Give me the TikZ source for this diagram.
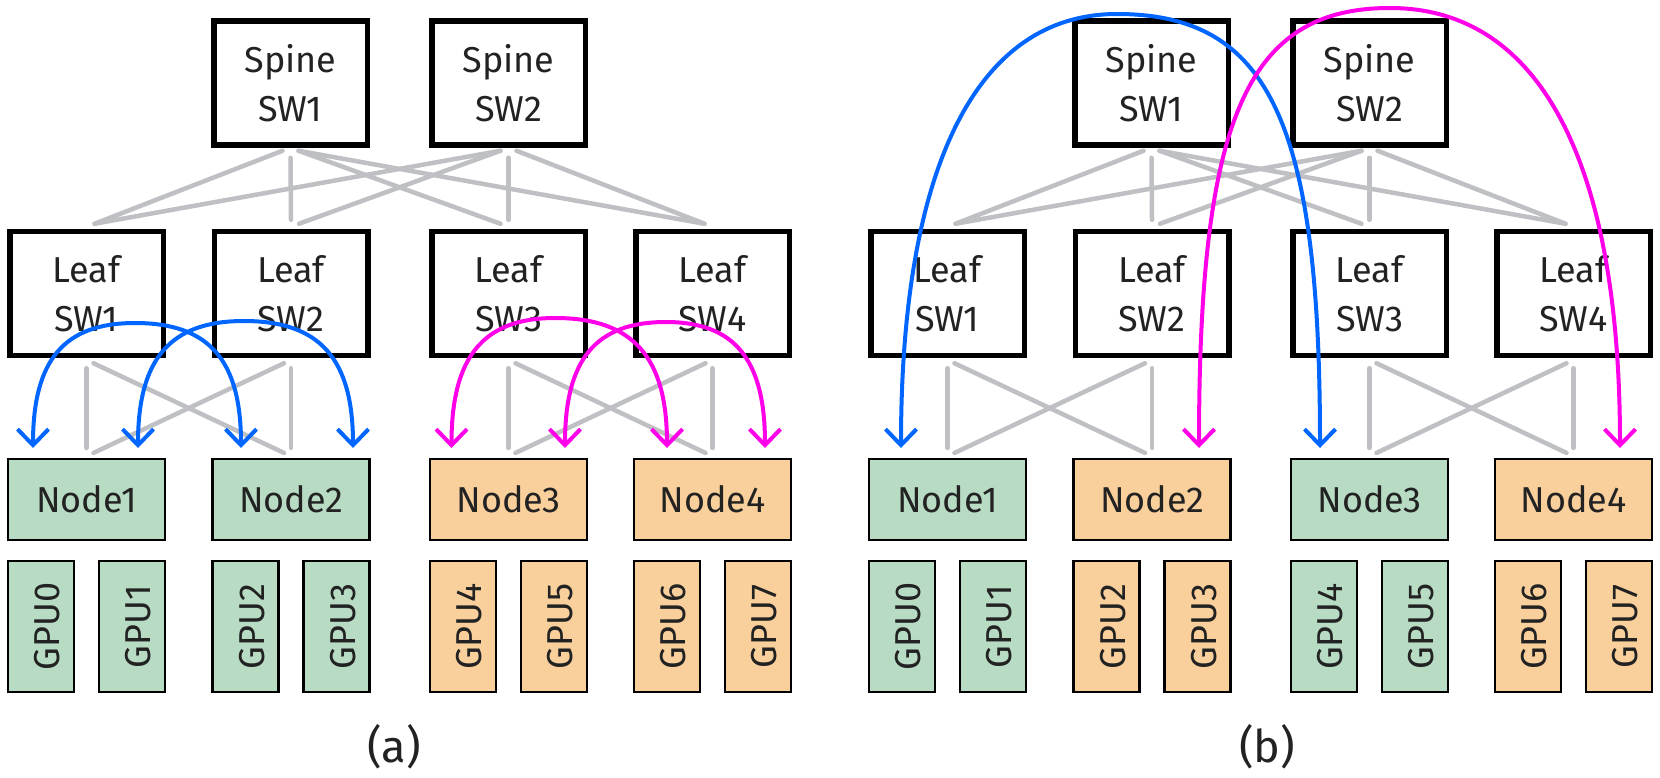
\documentclass[tikz,border=0pt]{standalone}
\usepackage{fontspec}
\setmainfont{Fira Sans}
\usetikzlibrary{arrows.meta,calc}
\definecolor{gfill}{HTML}{B8DBC4}
\definecolor{ofill}{HTML}{F9CF9C}
\definecolor{glink}{HTML}{BEC0C4}
\definecolor{ablue}{HTML}{0066FF}
\definecolor{amag}{HTML}{FF00E8}
\definecolor{txt}{HTML}{222222}
\newcommand\gputext[1]{\rotatebox{90}{\raisebox{0pt}[37pt][0pt]{#1}}}
\newcommand\drawpanel[6]{%
  \node[swbox] (#1S1) at ({290.5+#2},83) {Spine\\SW1};
  \node[swbox] (#1S2) at ({508.5+#2},83) {Spine\\SW2};
  \foreach \i/\cx/\col in {1/86.5/#3,2/291/#4,3/508.5/#5,4/712.5/#6}{
    \pgfmathtruncatemacro\ga{2*\i-2}
    \pgfmathtruncatemacro\gb{2*\i-1}
    \node[swbox] (#1L\i) at ({\cx+#2},293.5) {Leaf\\SW\i};
    \node[srvbox,fill=\col] (#1N\i) at ({\cx+#2},499.5) {Node\i};
    \node[gpubox,fill=\col] (#1G\ga) at ({\cx+#2-45.5},626.5) {\gputext{GPU\ga}};
    \node[gpubox,fill=\col] (#1G\gb) at ({\cx+#2+45.5},626.5) {\gputext{GPU\gb}};
  }
  % spine - leaf
  \draw[link] ($(#1S1.south)+(-8,3)$) -- ($(#1L1.north)+(8,-5)$);
  \draw[link] ($(#1S1.south)+(0,10)$) -- ($(#1L2.north)+(0,-9)$);
  \draw[link] ($(#1S1.south)+(8,3)$) -- ($(#1L3.north)+(-8,-5)$);
  \draw[link] ($(#1S1.south)+(8,3)$) -- ($(#1L4.north)+(-8,-5)$);
  \draw[link] ($(#1S2.south)+(-8,3)$) -- ($(#1L1.north)+(8,-5)$);
  \draw[link] ($(#1S2.south)+(-8,3)$) -- ($(#1L2.north)+(8,-5)$);
  \draw[link] ($(#1S2.south)+(0,10)$) -- ($(#1L3.north)+(0,-9)$);
  \draw[link] ($(#1S2.south)+(8,3)$) -- ($(#1L4.north)+(-8,-5)$);
  % leaf - node
  \foreach \p/\q in {1/2,3/4}{
    \draw[link] ($(#1L\p.south)+(0,10)$) -- ($(#1N\p.north)+(0,-10)$);
    \draw[link] ($(#1L\q.south)+(0,10)$) -- ($(#1N\q.north)+(0,-10)$);
    \draw[link] ($(#1L\p.south)+(7,5)$) -- ($(#1N\q.north)+(-7,-5)$);
    \draw[link] ($(#1L\q.south)+(-7,5)$) -- ($(#1N\p.north)+(7,-5)$);
  }
}
\begin{document}
\begin{tikzpicture}[x=1pt,y=-1pt,
  swbox/.style={draw=black, line width=5.5pt, minimum width=153.5pt, minimum height=124pt,
    inner sep=0pt, align=center, text=txt, font=\fontsize{36}{49}\selectfont},
  srvbox/.style={draw=black, line width=2.2pt, minimum width=157pt, minimum height=81pt,
    inner sep=0pt, text=txt, font=\fontsize{36}{43}\selectfont},
  gpubox/.style={draw=black, line width=2.2pt, minimum width=66pt, minimum height=131pt,
    inner sep=0pt, text=txt, font=\fontsize{36}{43}\selectfont},
  link/.style={draw=glink, line width=4.5pt, line cap=round},
  flow/.style={line width=4pt, >={Straight Barb[length=16pt,width=31pt]}, <->},
  flowb/.style={flow, draw=ablue},
  flowm/.style={flow, draw=amag},
  caption/.style={text=txt, font=\fontsize{45}{50}\selectfont}]
\useasboundingbox (0,0) rectangle (1660,777);
\fill[white] (0,0) rectangle (1660,777);
\drawpanel{a}{0}{gfill}{gfill}{ofill}{ofill}
\drawpanel{b}{861}{gfill}{ofill}{gfill}{ofill}
% arc end points
\coordinate (aB1s) at (33,448);    \coordinate (aB1t) at (135,323);   \coordinate (aB1e) at (241,448);
\coordinate (aB2s) at (138,448);   \coordinate (aB2t) at (244,321);   \coordinate (aB2e) at (353,448);
\coordinate (aM1s) at (451.5,448); \coordinate (aM1t) at (555,318);   \coordinate (aM1e) at (667,448);
\coordinate (aM2s) at (565,448);   \coordinate (aM2t) at (666,322);   \coordinate (aM2e) at (765,448);
\coordinate (bBs) at (901,448);    \coordinate (bBt) at (1117,14);    \coordinate (bBe) at (1320,448);
\coordinate (bMs) at (1199,448);   \coordinate (bMt) at (1390,8);     \coordinate (bMe) at (1620,448);
% panel (a)
\draw[flowb] (aB1s) .. controls +(0,-88) and +(-71,0) .. (aB1t) .. controls +(74,0) and +(0,-88) .. (aB1e);
\draw[flowb] (aB2s) .. controls +(0,-89) and +(-74,0) .. (aB2t) .. controls +(76,0) and +(0,-89) .. (aB2e);
\draw[flowm] (aM1s) .. controls +(0,-91) and +(-72,0) .. (aM1t) .. controls +(78,0) and +(0,-91) .. (aM1e);
\draw[flowm] (aM2s) .. controls +(0,-88) and +(-71,0) .. (aM2t) .. controls +(69,0) and +(0,-88) .. (aM2e);
% panel (b)
\draw[flowb] (bBs) .. controls +(0,-282) and +(-140,0) .. (bBt) .. controls +(152,0) and +(0,-326) .. (bBe);
\draw[flowm] (bMs) .. controls +(0,-330) and +(-143,0) .. (bMt) .. controls +(150,0) and +(0,-286) .. (bMe);
% captions
\node[caption] (capa) at (394,747) {(a)};
\node[caption] (capb) at (1267,747) {(b)};
\end{tikzpicture}
\end{document}
